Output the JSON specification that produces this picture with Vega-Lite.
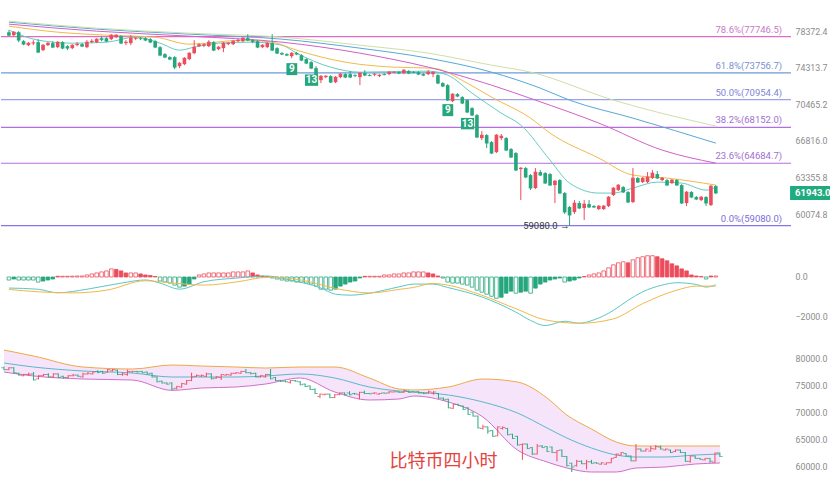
{
"$schema": "https://vega.github.io/schema/vega-lite/v6.json",
"padding": 0,
"spacing": 0,
"background": "white",
"config": {"view": {"stroke": null}, "font": "Roboto", "axis": {"domain": false, "ticks": false, "grid": false, "labelColor": "#8c8c8c", "labelFontSize": 8.8, "labelFont": "Roboto", "labelPadding": 4, "labelOverlap": false}},
"datasets": {
"c": [
{"i":0,"o":78258,"h":78486,"l":77805,"c":77918,"m":-154},
{"i":1,"o":77918,"h":78372,"l":77805,"c":78258,"m":-103},
{"i":2,"o":78258,"h":78372,"l":77130,"c":77354,"m":-154},
{"i":3,"o":77242,"h":77354,"l":76794,"c":76906,"m":-154},
{"i":4,"o":76794,"h":77130,"l":76683,"c":77018,"m":-154},
{"i":5,"o":77018,"h":77354,"l":76794,"c":77070,"m":-154},
{"i":6,"o":77130,"h":77467,"l":75907,"c":76017,"m":-257},
{"i":7,"o":76238,"h":76906,"l":76128,"c":76794,"m":-205},
{"i":8,"o":76794,"h":77130,"l":76683,"c":77018,"m":-154},
{"i":9,"o":77018,"h":77242,"l":76460,"c":76572,"m":-103},
{"i":10,"o":76572,"h":77242,"l":76460,"c":77130,"m":36},
{"i":11,"o":77130,"h":77242,"l":76349,"c":76460,"m":36},
{"i":12,"o":76683,"h":76794,"l":76238,"c":76460,"m":36},
{"i":13,"o":76460,"h":76906,"l":76349,"c":76794,"m":41},
{"i":14,"o":76794,"h":77130,"l":76683,"c":76906,"m":51},
{"i":15,"o":76906,"h":77018,"l":76572,"c":76683,"m":51},
{"i":16,"o":76572,"h":77354,"l":76460,"c":77130,"m":103},
{"i":17,"o":77130,"h":77467,"l":77018,"c":77242,"m":154},
{"i":18,"o":77130,"h":77579,"l":77018,"c":77467,"m":205},
{"i":19,"o":77579,"h":77805,"l":77242,"c":77410,"m":257},
{"i":20,"o":77579,"h":77692,"l":77130,"c":77242,"m":308},
{"i":21,"o":77467,"h":78031,"l":77354,"c":77918,"m":410},
{"i":22,"o":77692,"h":78031,"l":77579,"c":77918,"m":385},
{"i":23,"o":77805,"h":77918,"l":76906,"c":77018,"m":308},
{"i":24,"o":77018,"h":77354,"l":76794,"c":77130,"m":205},
{"i":25,"o":77018,"h":77918,"l":76794,"c":77579,"m":205},
{"i":26,"o":77520,"h":77692,"l":77354,"c":77579,"m":205},
{"i":27,"o":77579,"h":77692,"l":77354,"c":77520,"m":154},
{"i":28,"o":77579,"h":77692,"l":77242,"c":77354,"m":103},
{"i":29,"o":77467,"h":77579,"l":77018,"c":77130,"m":77},
{"i":30,"o":77242,"h":77354,"l":76460,"c":76572,"m":26},
{"i":31,"o":76572,"h":76683,"l":75576,"c":75686,"m":-205},
{"i":32,"o":75796,"h":75907,"l":75357,"c":75467,"m":-257},
{"i":33,"o":75467,"h":75576,"l":75138,"c":75248,"m":-308},
{"i":34,"o":75467,"h":75576,"l":74163,"c":74378,"m":-410},
{"i":35,"o":74486,"h":74920,"l":74270,"c":74811,"m":-513},
{"i":36,"o":74700,"h":75467,"l":74594,"c":75357,"m":-462},
{"i":37,"o":75248,"h":76017,"l":75138,"c":75907,"m":-359},
{"i":38,"o":75907,"h":77354,"l":75796,"c":76572,"m":-103},
{"i":39,"o":76683,"h":77018,"l":76572,"c":76850,"m":103},
{"i":40,"o":76740,"h":77018,"l":76572,"c":76850,"m":154},
{"i":41,"o":76683,"h":77354,"l":76572,"c":77130,"m":205},
{"i":42,"o":77130,"h":77242,"l":76128,"c":76238,"m":205},
{"i":43,"o":76349,"h":76683,"l":76238,"c":76572,"m":205},
{"i":44,"o":76460,"h":77130,"l":76017,"c":77018,"m":205},
{"i":45,"o":76906,"h":77130,"l":76794,"c":77018,"m":205},
{"i":46,"o":76906,"h":77354,"l":76794,"c":77242,"m":257},
{"i":47,"o":77242,"h":77467,"l":77130,"c":77354,"m":257},
{"i":48,"o":77242,"h":77692,"l":77130,"c":77579,"m":257},
{"i":49,"o":77579,"h":78031,"l":77242,"c":77354,"m":308},
{"i":50,"o":77354,"h":77467,"l":77018,"c":77186,"m":205},
{"i":51,"o":77242,"h":77354,"l":76460,"c":76572,"m":103},
{"i":52,"o":76572,"h":76906,"l":76460,"c":76794,"m":51},
{"i":53,"o":76572,"h":77130,"l":76460,"c":77018,"m":26},
{"i":54,"o":77018,"h":78031,"l":76128,"c":76238,"m":-51},
{"i":55,"o":76460,"h":76572,"l":75796,"c":75907,"m":-103},
{"i":56,"o":75907,"h":76017,"l":75686,"c":75796,"m":-154},
{"i":57,"o":75796,"h":75907,"l":75576,"c":75686,"m":-205},
{"i":58,"o":75576,"h":76017,"l":75357,"c":75907,"m":-205},
{"i":59,"o":75907,"h":76017,"l":75686,"c":75796,"m":-257},
{"i":60,"o":75686,"h":75796,"l":75029,"c":75138,"m":-257},
{"i":61,"o":75248,"h":75357,"l":74700,"c":74811,"m":-308},
{"i":62,"o":74920,"h":75029,"l":74163,"c":74270,"m":-359},
{"i":63,"o":74270,"h":74486,"l":73413,"c":73519,"m":-462},
{"i":64,"o":72987,"h":73519,"l":72670,"c":73413,"m":-616},
{"i":65,"o":73306,"h":73519,"l":73200,"c":73413,"m":-616},
{"i":66,"o":73413,"h":73519,"l":72670,"c":72775,"m":-667},
{"i":67,"o":72775,"h":73413,"l":72670,"c":73306,"m":-616},
{"i":68,"o":73306,"h":73733,"l":73200,"c":73626,"m":-462},
{"i":69,"o":73626,"h":73733,"l":73200,"c":73306,"m":-359},
{"i":70,"o":73626,"h":73948,"l":73200,"c":73306,"m":-257},
{"i":71,"o":73519,"h":73626,"l":73306,"c":73466,"m":-205},
{"i":72,"o":73306,"h":73840,"l":72458,"c":73733,"m":-51},
{"i":73,"o":73733,"h":74055,"l":73413,"c":73519,"m":36},
{"i":74,"o":73519,"h":73626,"l":73413,"c":73466,"m":36},
{"i":75,"o":73570,"h":73733,"l":73413,"c":73626,"m":36},
{"i":76,"o":73413,"h":73626,"l":73306,"c":73519,"m":36},
{"i":77,"o":73626,"h":73733,"l":73519,"c":73570,"m":103},
{"i":78,"o":73626,"h":73948,"l":73519,"c":73840,"m":103},
{"i":79,"o":73790,"h":73948,"l":73733,"c":73840,"m":154},
{"i":80,"o":73840,"h":73948,"l":73626,"c":73733,"m":154},
{"i":81,"o":73733,"h":74163,"l":73626,"c":74055,"m":205},
{"i":82,"o":73948,"h":74055,"l":73626,"c":73733,"m":205},
{"i":83,"o":73840,"h":73948,"l":73733,"c":73790,"m":257},
{"i":84,"o":73840,"h":73948,"l":73519,"c":73626,"m":257},
{"i":85,"o":73626,"h":73733,"l":73413,"c":73519,"m":257},
{"i":86,"o":73626,"h":74055,"l":73519,"c":73840,"m":205},
{"i":87,"o":73626,"h":73948,"l":73306,"c":73790,"m":154},
{"i":88,"o":73519,"h":73626,"l":72564,"c":72670,"m":51},
{"i":89,"o":72670,"h":72775,"l":72248,"c":72353,"m":-51},
{"i":90,"o":72458,"h":72564,"l":70794,"c":70897,"m":-257},
{"i":91,"o":70794,"h":71621,"l":70692,"c":71517,"m":-308},
{"i":92,"o":71517,"h":71621,"l":71206,"c":71310,"m":-308},
{"i":93,"o":71206,"h":71310,"l":70487,"c":70589,"m":-359},
{"i":94,"o":70897,"h":71000,"l":69570,"c":69672,"m":-410},
{"i":95,"o":70078,"h":70180,"l":69268,"c":69369,"m":-513},
{"i":96,"o":69369,"h":69470,"l":67090,"c":67187,"m":-667},
{"i":97,"o":67090,"h":67775,"l":66895,"c":67382,"m":-770},
{"i":98,"o":67382,"h":67480,"l":66122,"c":66604,"m":-872},
{"i":99,"o":66701,"h":66798,"l":65549,"c":65644,"m":-975},
{"i":100,"o":65739,"h":67480,"l":65644,"c":67382,"m":-1077},
{"i":101,"o":67090,"h":67480,"l":66895,"c":67285,"m":-1026},
{"i":102,"o":67090,"h":67187,"l":65835,"c":65930,"m":-821},
{"i":103,"o":66026,"h":66122,"l":65168,"c":65263,"m":-718},
{"i":104,"o":65644,"h":65739,"l":63950,"c":64042,"m":-821},
{"i":105,"o":64135,"h":64322,"l":61311,"c":64229,"m":-770},
{"i":106,"o":64229,"h":64322,"l":63303,"c":63395,"m":-718},
{"i":107,"o":63579,"h":63672,"l":62208,"c":62390,"m":-821},
{"i":108,"o":62390,"h":64229,"l":62299,"c":63857,"m":-564},
{"i":109,"o":63857,"h":64042,"l":63487,"c":63579,"m":-359},
{"i":110,"o":63764,"h":63857,"l":62753,"c":62845,"m":-257},
{"i":111,"o":63672,"h":63764,"l":62571,"c":62662,"m":-154},
{"i":112,"o":62662,"h":63119,"l":61045,"c":63028,"m":-103},
{"i":113,"o":63119,"h":63211,"l":61848,"c":61938,"m":-51},
{"i":114,"o":61938,"h":62028,"l":60078,"c":60252,"m":-257},
{"i":115,"o":60692,"h":60780,"l":59080,"c":59990,"m":-205},
{"i":116,"o":60252,"h":61311,"l":60078,"c":61045,"m":-154},
{"i":117,"o":61045,"h":61222,"l":60515,"c":60603,"m":-51},
{"i":118,"o":60603,"h":61311,"l":59556,"c":60957,"m":26},
{"i":119,"o":60957,"h":61311,"l":60603,"c":60692,"m":103},
{"i":120,"o":60780,"h":60868,"l":60603,"c":60692,"m":154},
{"i":121,"o":60515,"h":60868,"l":60427,"c":60780,"m":205},
{"i":122,"o":60515,"h":60868,"l":60427,"c":60780,"m":308},
{"i":123,"o":60780,"h":61668,"l":60692,"c":61579,"m":462},
{"i":124,"o":61758,"h":62480,"l":61668,"c":62390,"m":616},
{"i":125,"o":62208,"h":62753,"l":62118,"c":62662,"m":718},
{"i":126,"o":62480,"h":62571,"l":61938,"c":62028,"m":770},
{"i":127,"o":62028,"h":62118,"l":61045,"c":61134,"m":718},
{"i":128,"o":61134,"h":64229,"l":61045,"c":63303,"m":872},
{"i":129,"o":63303,"h":63395,"l":62845,"c":62936,"m":975},
{"i":130,"o":62936,"h":63395,"l":62845,"c":63303,"m":1026},
{"i":131,"o":62936,"h":63857,"l":62845,"c":63395,"m":1077},
{"i":132,"o":63303,"h":64042,"l":63211,"c":63764,"m":1077},
{"i":133,"o":63672,"h":63950,"l":63211,"c":63303,"m":1026},
{"i":134,"o":63119,"h":63395,"l":63028,"c":63303,"m":923},
{"i":135,"o":63119,"h":63211,"l":62571,"c":62662,"m":821},
{"i":136,"o":62845,"h":63211,"l":62753,"c":63119,"m":667},
{"i":137,"o":63119,"h":63211,"l":62571,"c":62662,"m":564},
{"i":138,"o":62662,"h":62753,"l":60957,"c":61045,"m":410},
{"i":139,"o":61045,"h":62118,"l":60780,"c":62028,"m":308},
{"i":140,"o":62028,"h":62118,"l":61490,"c":61579,"m":103},
{"i":141,"o":61579,"h":61668,"l":61311,"c":61400,"m":51},
{"i":142,"o":61311,"h":61668,"l":61222,"c":61579,"m":26},
{"i":143,"o":61579,"h":61668,"l":60780,"c":61045,"m":-103},
{"i":144,"o":60868,"h":62662,"l":60780,"c":62571,"m":51},
{"i":145,"o":62571,"h":62662,"l":61848,"c":61943,"m":51}
],
"ma": [
{"s":"t","i":0,"v":78486},{"s":"t","i":6,"v":77354},{"s":"t","i":13,"v":77018},{"s":"t","i":20,"v":77130},{"s":"t","i":26,"v":77692},{"s":"t","i":31,"v":77018},{"s":"t","i":35,"v":76238},{"s":"t","i":38,"v":76572},{"s":"t","i":43,"v":77018},{"s":"t","i":50,"v":77130},{"s":"t","i":56,"v":76794},{"s":"t","i":59,"v":75907},{"s":"t","i":66,"v":74378},{"s":"t","i":72,"v":73840},{"s":"t","i":86,"v":73948},{"s":"t","i":90,"v":73519},{"s":"t","i":95,"v":71621},{"s":"t","i":101,"v":69570},{"s":"t","i":105,"v":68368},{"s":"t","i":111,"v":64979},{"s":"t","i":115,"v":62845},{"s":"t","i":121,"v":61938},{"s":"t","i":124,"v":61938},{"s":"t","i":128,"v":62390},{"s":"t","i":133,"v":62936},{"s":"t","i":138,"v":62845},{"s":"t","i":143,"v":62208},{"s":"t","i":145,"v":62480},
{"s":"o","i":0,"v":78944},{"s":"o","i":10,"v":78258},{"s":"o","i":20,"v":77918},{"s":"o","i":30,"v":77692},{"s":"o","i":37,"v":76906},{"s":"o","i":48,"v":77354},{"s":"o","i":54,"v":77130},{"s":"o","i":59,"v":76238},{"s":"o","i":69,"v":74920},{"s":"o","i":79,"v":74378},{"s":"o","i":87,"v":74270},{"s":"o","i":94,"v":72670},{"s":"o","i":99,"v":71206},{"s":"o","i":107,"v":69068},{"s":"o","i":111,"v":67578},{"s":"o","i":121,"v":65168},{"s":"o","i":128,"v":63579},{"s":"o","i":135,"v":63303},{"s":"o","i":145,"v":62662},
{"s":"p","i":0,"v":79174},{"s":"p","i":18,"v":78372},{"s":"p","i":37,"v":77805},{"s":"p","i":56,"v":77130},{"s":"p","i":72,"v":75907},{"s":"p","i":86,"v":74378},{"s":"p","i":99,"v":72458},{"s":"p","i":108,"v":70897},{"s":"p","i":121,"v":68570},{"s":"p","i":134,"v":65930},{"s":"p","i":145,"v":64696},
{"s":"b","i":0,"v":79400},{"s":"b","i":18,"v":78600},{"s":"b","i":37,"v":78031},{"s":"b","i":56,"v":77467},{"s":"b","i":72,"v":76460},{"s":"b","i":86,"v":75357},{"s":"b","i":99,"v":73840},{"s":"b","i":109,"v":72144},{"s":"b","i":115,"v":70897},{"s":"b","i":128,"v":69068},{"s":"b","i":145,"v":66604},
{"s":"g","i":0,"v":79520},{"s":"g","i":18,"v":78714},{"s":"g","i":37,"v":78145},{"s":"g","i":56,"v":77692},{"s":"g","i":72,"v":76794},{"s":"g","i":86,"v":75907},{"s":"g","i":99,"v":74594},{"s":"g","i":107,"v":73840},{"s":"g","i":124,"v":70897},{"s":"g","i":145,"v":68270}
],
"fib": [
{"lv":"78.6%","v":77746.5,"lab":"78.6%(77746.5)"},
{"lv":"61.8%","v":73756.7,"lab":"61.8%(73756.7)"},
{"lv":"50.0%","v":70954.4,"lab":"50.0%(70954.4)"},
{"lv":"38.2%","v":68152.0,"lab":"38.2%(68152.0)"},
{"lv":"23.6%","v":64684.7,"lab":"23.6%(64684.7)"},
{"lv":"0.0%","v":59080.0,"lab":"0.0%(59080.0)"}
],
"td": [
{"i":58.03,"v":74163,"t":"9"},{"i":62.08,"v":72987,"t":"13"},{"i":90.03,"v":69874,"t":"9"},{"i":94.08,"v":68517,"t":"13"}
],
"macd": [
{"s":"d","i":0,"v":-560},{"s":"d","i":6,"v":-620},{"s":"d","i":10,"v":-800},{"s":"d","i":16,"v":-620},{"s":"d","i":23,"v":-310},{"s":"d","i":28,"v":-150},{"s":"d","i":31,"v":-310},{"s":"d","i":35,"v":-615},{"s":"d","i":40,"v":-240},{"s":"d","i":47,"v":-50},{"s":"d","i":53,"v":50},{"s":"d","i":57,"v":-120},{"s":"d","i":64,"v":-560},{"s":"d","i":67,"v":-870},{"s":"d","i":70,"v":-920},{"s":"d","i":74,"v":-820},{"s":"d","i":80,"v":-500},{"s":"d","i":83,"v":-360},{"s":"d","i":87,"v":-360},{"s":"d","i":90,"v":-530},{"s":"d","i":97,"v":-1010},{"s":"d","i":104,"v":-1780},{"s":"d","i":107,"v":-2200},{"s":"d","i":110,"v":-2460},{"s":"d","i":114,"v":-2240},{"s":"d","i":117,"v":-2340},{"s":"d","i":120,"v":-2170},{"s":"d","i":124,"v":-1690},{"s":"d","i":127,"v":-1180},{"s":"d","i":130,"v":-750},{"s":"d","i":134,"v":-410},{"s":"d","i":137,"v":-290},{"s":"d","i":141,"v":-380},{"s":"d","i":143,"v":-510},{"s":"d","i":145,"v":-400},
{"s":"e","i":0,"v":-630},{"s":"e","i":6,"v":-750},{"s":"e","i":13,"v":-805},{"s":"e","i":20,"v":-670},{"s":"e","i":28,"v":-190},{"s":"e","i":33,"v":-290},{"s":"e","i":40,"v":-410},{"s":"e","i":47,"v":-240},{"s":"e","i":53,"v":-15},{"s":"e","i":60,"v":-154},{"s":"e","i":67,"v":-580},{"s":"e","i":74,"v":-805},{"s":"e","i":80,"v":-630},{"s":"e","i":83,"v":-530},{"s":"e","i":87,"v":-325},{"s":"e","i":90,"v":-410},{"s":"e","i":97,"v":-923},{"s":"e","i":104,"v":-1607},{"s":"e","i":110,"v":-2170},{"s":"e","i":117,"v":-2343},{"s":"e","i":124,"v":-2120},{"s":"e","i":130,"v":-1350},{"s":"e","i":137,"v":-667},{"s":"e","i":141,"v":-462},{"s":"e","i":145,"v":-462}
],
"boll": [
{"i":0,"up":81527,"mid":79135,"lo":77479},
{"i":6,"up":80423,"mid":78399,"lo":76743},
{"i":16,"up":78399,"mid":77663,"lo":76191},
{"i":26,"up":78031,"mid":77295,"lo":76007},
{"i":34,"up":78767,"mid":76559,"lo":74100},
{"i":40,"up":78583,"mid":76559,"lo":74535},
{"i":47,"up":78399,"mid":76559,"lo":74719},
{"i":53,"up":78215,"mid":76743,"lo":75271},
{"i":60,"up":78399,"mid":77111,"lo":76375},
{"i":67,"up":78399,"mid":76375,"lo":73799},
{"i":74,"up":76375,"mid":74719,"lo":72327},
{"i":80,"up":74351,"mid":73983,"lo":72511},
{"i":83,"up":74167,"mid":73799,"lo":73063},
{"i":90,"up":74719,"mid":73247,"lo":71959},
{"i":97,"up":76191,"mid":71959,"lo":69199},
{"i":104,"up":75639,"mid":69935,"lo":63127},
{"i":110,"up":72695,"mid":67175,"lo":60919},
{"i":114,"up":69567,"mid":65335,"lo":59815},
{"i":119,"up":66991,"mid":63495,"lo":59079},
{"i":124,"up":64599,"mid":62207,"lo":59079},
{"i":128,"up":63863,"mid":61839,"lo":59815},
{"i":134,"up":63863,"mid":61839,"lo":59999},
{"i":140,"up":63863,"mid":62207,"lo":60551},
{"i":145,"up":63863,"mid":62391,"lo":60735}
]
},
"vconcat": [
{
"width": 790, "height": 240,
"resolve": {"scale": {"color": "independent"}},
"layer": [
{"data": {"name": "fib"},
 "mark": {"type": "rule", "strokeWidth": 1.2},
 "encoding": {
  "y": {"field": "v", "type": "quantitative", "title": null, "scale": {"type": "log", "domain": [57855, 82004], "nice": false, "zero": false}, "axis": {"values": [60074.8, 63355.8, 66816.0, 70465.2, 74313.7, 78372.4], "format": ".1f", "title": null, "orient": "right", "labelOverlap": false}},
  "color": {"field": "lv", "type": "nominal", "scale": {"domain": ["78.6%","61.8%","50.0%","38.2%","23.6%","0.0%"], "range": ["#e06bc0","#6d9bd8","#9aa3e8","#b36ee0","#b36ee0","#8476e6"]}, "legend": null}
 }},
{"data": {"name": "fib"},
 "mark": {"type": "text", "align": "right", "baseline": "bottom", "dy": -2, "fontSize": 9.5},
 "encoding": {
  "x": {"datum": 158.6, "type": "quantitative", "scale": {"domain": [-0.6, 159.4], "nice": false, "zero": false}, "axis": null},
  "y": {"field": "v", "type": "quantitative", "title": null},
  "text": {"field": "lab"},
  "color": {"field": "lv", "type": "nominal", "scale": {"domain": ["78.6%","61.8%","50.0%","38.2%","23.6%","0.0%"], "range": ["#c97ac6","#7b8fd0","#7f85d6","#a070d0","#a070d0","#7a6ed8"]}, "legend": null}
 }},
{"data": {"name": "ma"},
 "mark": {"type": "line", "strokeWidth": 1, "interpolate": "monotone", "clip": true},
 "encoding": {
  "x": {"field": "i", "type": "quantitative", "axis": null},
  "y": {"field": "v", "type": "quantitative", "title": null},
  "color": {"field": "s", "type": "nominal", "scale": {"domain": ["t","o","p","b","g"], "range": ["#66cbc4","#f4b84a","#d060c8","#58a8d8","#cfdfa8"]}, "legend": null}
 }},
{"data": {"name": "c"},
 "mark": {"type": "rule", "strokeWidth": 1},
 "encoding": {
  "x": {"field": "i", "type": "quantitative", "axis": null},
  "y": {"field": "l", "type": "quantitative", "title": null},
  "y2": {"field": "h"},
  "color": {"condition": {"test": "datum.c >= datum.o", "value": "#eb4d5c"}, "value": "#26a67d"}
 }},
{"data": {"name": "c"},
 "mark": {"type": "bar", "size": 3.6},
 "encoding": {
  "x": {"field": "i", "type": "quantitative", "axis": null},
  "y": {"field": "o", "type": "quantitative", "title": null},
  "y2": {"field": "c"},
  "color": {"condition": {"test": "datum.c >= datum.o", "value": "#eb4d5c"}, "value": "#26a67d"}
 }},
{"data": {"name": "c"},
 "mark": {"type": "tick", "orient": "horizontal", "size": 3.6, "thickness": 1},
 "encoding": {
  "x": {"field": "i", "type": "quantitative", "axis": null},
  "y": {"field": "c", "type": "quantitative", "title": null},
  "color": {"condition": {"test": "datum.c >= datum.o", "value": "#eb4d5c"}, "value": "#26a67d"}
 }},
{"data": {"name": "td"},
 "mark": {"type": "point", "filled": true, "size": 144, "opacity": 1, "color": "#26a67d"},
 "encoding": {
  "x": {"field": "i", "type": "quantitative", "axis": null},
  "y": {"field": "v", "type": "quantitative", "title": null},
  "shape": {"field": "t", "type": "nominal", "scale": {"domain": ["9","13"], "range": ["M-0.9,-1H0.9V1H-0.9Z", "M-1.1,-0.95H1.1V0.95H-1.1Z"]}, "legend": null}
 }},
{"data": {"name": "td"},
 "mark": {"type": "text", "color": "white", "fontSize": 10, "fontWeight": "bold", "baseline": "middle", "align": "center"},
 "encoding": {
  "x": {"field": "i", "type": "quantitative", "axis": null},
  "y": {"field": "v", "type": "quantitative", "title": null},
  "text": {"field": "t"}
 }},
{"data": {"values": [{"i": 115, "v": 59080, "t": "59080.0 →"}]},
 "mark": {"type": "text", "align": "right", "baseline": "middle", "dx": 0, "fontSize": 9.5, "color": "#333333"},
 "encoding": {
  "x": {"field": "i", "type": "quantitative", "axis": null},
  "y": {"field": "v", "type": "quantitative", "title": null},
  "text": {"field": "t"}
 }},
{"data": {"values": [{"i": 164.4, "v": 61943, "t": "61943.0"}]},
 "mark": {"type": "point", "filled": true, "opacity": 1, "size": 196, "color": "#1fab7e", "shape": "M-2.9,-1H2.9V1H-2.9Z"},
 "encoding": {
  "x": {"field": "i", "type": "quantitative", "axis": null},
  "y": {"field": "v", "type": "quantitative", "title": null}
 }},
{"data": {"values": [{"i": 164.9, "v": 61943, "t": "61943.0"}]},
 "mark": {"type": "text", "align": "center", "baseline": "middle", "fontSize": 9.5, "fontWeight": "bold", "color": "white"},
 "encoding": {
  "x": {"field": "i", "type": "quantitative", "axis": null},
  "y": {"field": "v", "type": "quantitative", "title": null},
  "text": {"field": "t"}
 }}
]
},
{
"width": 790, "height": 100,
"resolve": {"scale": {"color": "independent"}},
"layer": [
{"data": {"name": "c"},
 "transform": [{"window": [{"op": "lag", "param": 1, "field": "m", "as": "pm"}], "sort": [{"field": "i", "order": "ascending"}]}],
 "mark": {"type": "bar", "size": 3.6, "strokeWidth": 0.8},
 "encoding": {
  "x": {"field": "i", "type": "quantitative", "scale": {"domain": [-0.6, 159.4], "nice": false, "zero": false}, "axis": null},
  "y": {"field": "m", "type": "quantitative", "title": null, "scale": {"domain": [-3190, 1873], "nice": false, "zero": false}, "axis": {"values": [0, -2000], "format": ".1f", "title": null, "orient": "right", "labelOverlap": false}},
  "y2": {"datum": 0},
  "stroke": {"condition": {"test": "datum.m >= 0", "value": "#eb4d5c"}, "value": "#26a67d"},
  "fill": {"condition": [{"test": "abs(datum.m) >= abs(datum.pm || 0)", "value": "#ffffff"}, {"test": "datum.m >= 0", "value": "#eb4d5c"}], "value": "#26a67d"}
 }},
{"data": {"name": "macd"},
 "mark": {"type": "line", "strokeWidth": 1, "interpolate": "monotone", "clip": true},
 "encoding": {
  "x": {"field": "i", "type": "quantitative", "axis": null},
  "y": {"field": "v", "type": "quantitative", "title": null},
  "color": {"field": "s", "type": "nominal", "scale": {"domain": ["d","e"], "range": ["#5cc6c6","#f2b84a"]}, "legend": null}
 }}
]
},
{
"width": 790, "height": 140,
"layer": [
{"data": {"name": "boll"},
 "mark": {"type": "area", "interpolate": "monotone", "color": "#f5e4fa", "opacity": 1},
 "encoding": {
  "x": {"field": "i", "type": "quantitative", "scale": {"domain": [-0.6, 159.4], "nice": false, "zero": false}, "axis": null},
  "y": {"field": "up", "type": "quantitative", "title": null, "scale": {"domain": [57608, 83367], "nice": false, "zero": false}, "axis": {"values": [60000, 65000, 70000, 75000, 80000], "format": ".1f", "title": null, "orient": "right", "labelOverlap": false, "labelSeparation": 0}},
  "y2": {"field": "lo"}
 }},
{"data": {"name": "boll"},
 "mark": {"type": "line", "interpolate": "monotone", "color": "#f0a848", "strokeWidth": 1},
 "encoding": {
  "x": {"field": "i", "type": "quantitative", "axis": null},
  "y": {"field": "up", "type": "quantitative", "title": null, "axis": {"values": [60000, 65000, 70000, 75000, 80000], "format": ".1f", "title": null, "orient": "right", "labelOverlap": false, "labelSeparation": 0}}
 }},
{"data": {"name": "boll"},
 "mark": {"type": "line", "interpolate": "monotone", "color": "#5cb8cc", "strokeWidth": 1},
 "encoding": {
  "x": {"field": "i", "type": "quantitative", "axis": null},
  "y": {"field": "mid", "type": "quantitative", "title": null, "axis": {"values": [60000, 65000, 70000, 75000, 80000], "format": ".1f", "title": null, "orient": "right", "labelOverlap": false, "labelSeparation": 0}}
 }},
{"data": {"name": "boll"},
 "mark": {"type": "line", "interpolate": "monotone", "color": "#d070c8", "strokeWidth": 1},
 "encoding": {
  "x": {"field": "i", "type": "quantitative", "axis": null},
  "y": {"field": "lo", "type": "quantitative", "title": null, "axis": {"values": [60000, 65000, 70000, 75000, 80000], "format": ".1f", "title": null, "orient": "right", "labelOverlap": false, "labelSeparation": 0}}
 }},
{"data": {"name": "c"},
 "mark": {"type": "rule", "strokeWidth": 1},
 "encoding": {
  "x": {"field": "i", "type": "quantitative", "axis": null},
  "y": {"field": "l", "type": "quantitative", "title": null, "axis": {"values": [60000, 65000, 70000, 75000, 80000], "format": ".1f", "title": null, "orient": "right", "labelOverlap": false, "labelSeparation": 0}},
  "y2": {"field": "h"},
  "color": {"condition": {"test": "datum.c >= datum.o", "value": "#eb4d5c"}, "value": "#26a67d"}
 }},
{"data": {"name": "c"},
 "mark": {"type": "tick", "orient": "horizontal", "size": 2.5, "thickness": 1, "xOffset": -1.5},
 "encoding": {
  "x": {"field": "i", "type": "quantitative", "axis": null},
  "y": {"field": "o", "type": "quantitative", "title": null, "axis": {"values": [60000, 65000, 70000, 75000, 80000], "format": ".1f", "title": null, "orient": "right", "labelOverlap": false, "labelSeparation": 0}},
  "color": {"condition": {"test": "datum.c >= datum.o", "value": "#eb4d5c"}, "value": "#26a67d"}
 }},
{"data": {"name": "c"},
 "mark": {"type": "tick", "orient": "horizontal", "size": 2.5, "thickness": 1, "xOffset": 1.5},
 "encoding": {
  "x": {"field": "i", "type": "quantitative", "axis": null},
  "y": {"field": "c", "type": "quantitative", "title": null, "axis": {"values": [60000, 65000, 70000, 75000, 80000], "format": ".1f", "title": null, "orient": "right", "labelOverlap": false, "labelSeparation": 0}},
  "color": {"condition": {"test": "datum.c >= datum.o", "value": "#eb4d5c"}, "value": "#26a67d"}
 }},
{"data": {"values": [{"i": 89.0, "v": 60900, "t": "比特币四小时"}]},
 "mark": {"type": "text", "font": "Noto Sans CJK SC", "fontSize": 18, "color": "#e5423c", "align": "center", "baseline": "middle"},
 "encoding": {
  "x": {"field": "i", "type": "quantitative", "axis": null},
  "y": {"field": "v", "type": "quantitative", "title": null, "axis": {"values": [60000, 65000, 70000, 75000, 80000], "format": ".1f", "title": null, "orient": "right", "labelOverlap": false, "labelSeparation": 0}},
  "text": {"field": "t"}
 }}
]
}
]
}
